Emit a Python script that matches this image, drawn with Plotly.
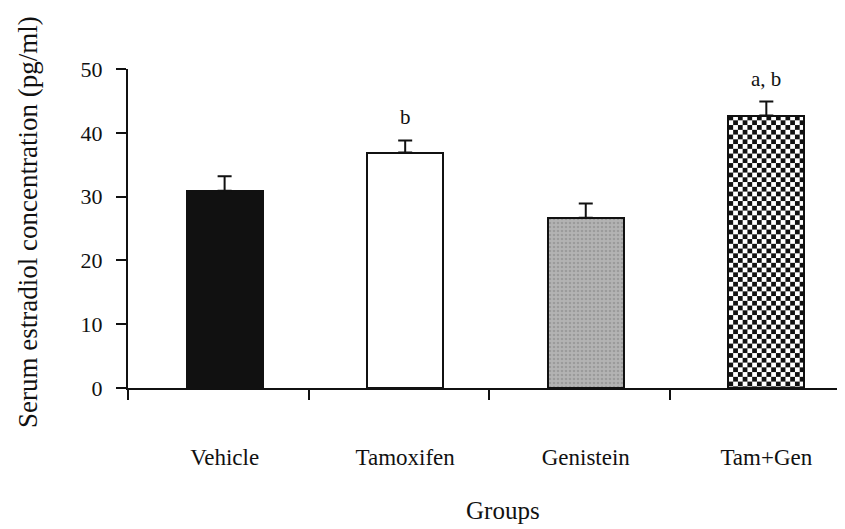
import base64
import plotly.graph_objects as go

# ---- data ----
groups = ["Vehicle", "Tamoxifen", "Genistein", "Tam+Gen"]
estradiol_mean = [30.9, 36.9, 26.7, 42.7]
estradiol_sem = [2.3, 1.9, 2.2, 2.2]
sig_labels = ["", "b", "", "a, b"]
y_ticks = [0, 10, 20, 30, 40, 50]

FONT = "Liberation Serif, Times New Roman, serif"

n = len(groups)
pos = [i + 0.535 for i in range(n)]
bar_w = 0.42

# page body has an 8px offset; compensate so the figure sits at the window origin
OFF = 8
W, H = 845 - OFF, 529 - OFF
ML, MR, MT, MB = 128 - OFF, 0, 69 - OFF, 141
px_per_x = (W - ML - MR) / ((845 - 128.3) / 180.5)
px_per_y = (H - MT - MB) / 50.0

fill_colors = ["#111111", "#ffffff", "#aaaaaa", "rgba(0,0,0,0)"]
patterns = [
    dict(shape=""),
    dict(shape=""),
    dict(shape=".", bgcolor="#b3b3b3", fgcolor="#848484", size=4, solidity=0.35),
    dict(shape=""),
]

fig = go.Figure()
for i in range(n):
    fig.add_trace(go.Bar(
        x=[pos[i]], y=[estradiol_mean[i]], width=bar_w,
        marker=dict(color=fill_colors[i], line=dict(color="#111111", width=2),
                    pattern=patterns[i]),
        error_y=dict(type="data", array=[estradiol_sem[i]], arrayminus=[0],
                     symmetric=False, color="#111111", thickness=2, width=7),
        showlegend=False, cliponaxis=False,
    ))


def checker_svg(wpx, hpx, cell=4.75):
    svg = (
        f'<svg xmlns="http://www.w3.org/2000/svg" width="{wpx:.1f}" height="{hpx:.1f}" '
        f'viewBox="0 0 {wpx:.1f} {hpx:.1f}" preserveAspectRatio="none">'
        f'<defs><pattern id="c" width="{2*cell}" height="{2*cell}" patternUnits="userSpaceOnUse">'
        f'<rect width="{2*cell}" height="{2*cell}" fill="#ffffff"/>'
        f'<rect x="0" y="0" width="{cell}" height="{cell}" fill="#111111"/>'
        f'<rect x="{cell}" y="{cell}" width="{cell}" height="{cell}" fill="#111111"/>'
        f'</pattern></defs><rect width="100%" height="100%" fill="url(#c)"/></svg>'
    )
    return "data:image/svg+xml;base64," + base64.b64encode(svg.encode()).decode()


# checkerboard texture for the combined-treatment bar (drawn under its outline)
ci = 3
fig.add_layout_image(
    source=checker_svg(bar_w * px_per_x, estradiol_mean[ci] * px_per_y),
    xref="x", yref="y", x=pos[ci] - bar_w / 2, y=estradiol_mean[ci],
    sizex=bar_w, sizey=estradiol_mean[ci], sizing="stretch",
    xanchor="left", yanchor="top", layer="below",
)

# significance letters above error bars
for i in range(n):
    if sig_labels[i]:
        fig.add_annotation(x=pos[i], y=estradiol_mean[i] + estradiol_sem[i],
                           xref="x", yref="y", text=sig_labels[i], showarrow=False,
                           yanchor="middle", yshift=23,
                           font=dict(family=FONT, size=21, color="#111111"))

xmax = (845 - 128.3) / 180.5

fig.update_layout(
    width=W, height=H,
    margin=dict(l=ML, r=MR, t=MT, b=MB),
    paper_bgcolor="white", plot_bgcolor="white",
    font=dict(family=FONT, color="#111111"),
    bargap=0,
    xaxis=dict(range=[0, xmax], tickmode="array", tickvals=pos, ticktext=groups,
               ticks="", showline=True, linecolor="#111111", linewidth=2,
               showgrid=False, zeroline=False, ticklabelstandoff=47,
               tickfont=dict(family=FONT, size=23, color="#111111")),
    xaxis2=dict(range=[0, xmax], overlaying="x", side="bottom", anchor="y",
                tickmode="array", tickvals=list(range(n)), ticks="outside",
                ticklen=11, tickwidth=2, tickcolor="#111111",
                showticklabels=False, showline=False, showgrid=False, zeroline=False),
    yaxis=dict(range=[0, 50], tickmode="array", tickvals=y_ticks,
               ticks="outside", ticklen=10, tickwidth=2, tickcolor="#111111",
               showline=True, linecolor="#111111", linewidth=2,
               showgrid=False, zeroline=False, ticklabelstandoff=9,
               tickfont=dict(family=FONT, size=22, color="#111111")),
)

# invisible trace to activate the tick-mark axis
fig.add_trace(go.Scatter(x=[0], y=[0], xaxis="x2", mode="markers",
                         marker=dict(opacity=0), showlegend=False, hoverinfo="skip"))

plot_w = W - ML - MR
plot_h = H - MT - MB
fig.add_annotation(text="Groups", xref="paper", yref="paper",
                   x=(503 - 128) / plot_w, y=(388 - 511) / plot_h,
                   xanchor="center", yanchor="middle", showarrow=False,
                   font=dict(family=FONT, size=25, color="#111111"))
fig.add_annotation(text="Serum estradiol concentration (pg/ml)", xref="paper", yref="paper",
                   x=(28 - 128) / plot_w, y=(388 - 222) / plot_h, textangle=-90,
                   xanchor="center", yanchor="middle", showarrow=False,
                   font=dict(family=FONT, size=27, color="#111111"))

fig.write_html("out.html")
